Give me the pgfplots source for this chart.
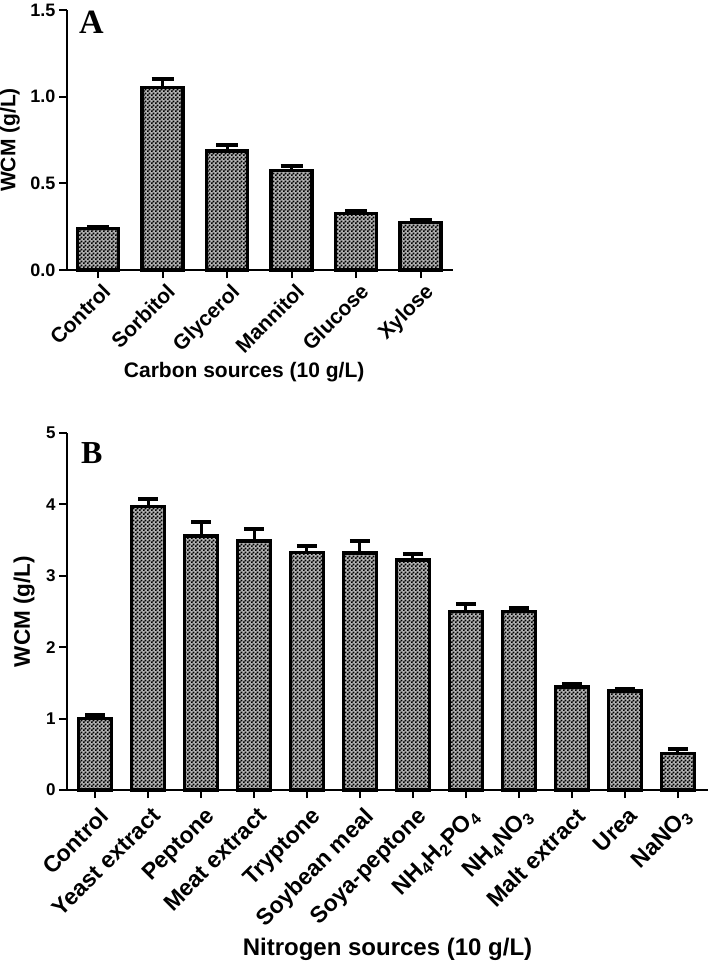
\documentclass[border=0pt]{standalone}
\usepackage{fontspec}
\setmainfont{Liberation Sans}
\newfontfamily\serifbf{Liberation Serif}
\usepackage{pgfplots}
\usepackage{pgfplotstable}
\pgfplotsset{compat=1.18}
\usetikzlibrary{patterns}

\pgfdeclarepatternformonly{finecheck}{\pgfpointorigin}{\pgfqpoint{3.6pt}{3.6pt}}{\pgfqpoint{3.6pt}{3.6pt}}{
  \pgfpathrectangle{\pgfpointorigin}{\pgfqpoint{1.85pt}{1.85pt}}
  \pgfpathrectangle{\pgfqpoint{1.8pt}{1.8pt}}{\pgfqpoint{1.85pt}{1.85pt}}
  \pgfusepath{fill}
}

\pgfplotstableread{
x y e
0 0.238 0.012
1 1.052 0.050
2 0.687 0.035
3 0.573 0.027
4 0.327 0.015
5 0.275 0.015
}\dataA

\pgfplotstableread{
x y e
0 1.00 0.05
1 3.97 0.11
2 3.56 0.20
3 3.49 0.17
4 3.33 0.09
5 3.32 0.17
6 3.22 0.08
7 2.50 0.11
8 2.50 0.05
9 1.44 0.05
10 1.39 0.03
11 0.51 0.06
}\dataB

\pgfplotsset{
  common/.style={
    scale only axis,
    axis x line*=bottom, axis y line*=left,
    axis line style={line width=2.5pt, -},
    tick align=outside, major tick length=8pt,
    tick style={line width=2pt, black},
    xtick pos=bottom, ytick pos=left,
    /pgf/number format/assume math mode=true,
    clip=false,
  },
  barstyle/.style={
    ybar, draw=black, line width=3.5pt, fill=black!30, postaction={pattern=finecheck, pattern color=black},
    error bars/.cd, y dir=plus, y explicit, error mark=|,
    error bar style={line width=3pt},
    error mark options={line width=4pt, mark size=#1},
  },
}

\begin{document}
\begin{tikzpicture}[x=1pt,y=1pt]
\path[use as bounding box] (0,0) rectangle (711,-963);

\begin{axis}[common,
  at={(67pt,-270pt)}, anchor=south west,
  width=386pt, height=260pt,
  xmin=-0.48, xmax=5.5, ymin=0, ymax=1.5,
  ytick={0,0.5,1,1.5},
  yticklabel style={/pgf/number format/.cd, fixed, fixed zerofill, precision=1},
  xtick={0,...,5},
  xticklabels={Control,Sorbitol,Glycerol,Mannitol,Glucose,Xylose},
  ticklabel style={font=\bfseries\fontsize{18}{18}\selectfont},
  xticklabel style={xshift=3pt, yshift=-4pt, rotate=45, anchor=north east, inner sep=0pt, font=\bfseries\fontsize{21}{21}\selectfont},
  xlabel={Carbon sources (10 g/L)},
  ylabel={WCM (g/L)},
  every axis x label/.style={at={(axis description cs:0.459,0)}, anchor=center, yshift=-102pt, font=\bfseries\fontsize{21}{21}\selectfont},
  every axis y label/.style={at={(axis description cs:-0.148,0.5)}, anchor=center, rotate=90, font=\bfseries\fontsize{21}{21}\selectfont},
  bar width=41pt,
]
\addplot[barstyle=11pt] table[x=x, y=y, y error=e]{\dataA};
\end{axis}

\begin{axis}[common,
  at={(67pt,-790pt)}, anchor=south west,
  width=641pt, height=357pt,
  xmin=-0.53, xmax=11.57, ymin=0, ymax=5,
  ytick={0,1,2,3,4,5},
  xtick={0,...,11},
  xticklabels={Control,Yeast extract,Peptone,Meat extract,Tryptone,Soybean meal,Soya-peptone,{NH\textsubscript{4}H\textsubscript{2}PO\textsubscript{4}},{NH\textsubscript{4}NO\textsubscript{3}},Malt extract,Urea,{NaNO\textsubscript{3}}},
  ticklabel style={font=\bfseries\fontsize{17}{17}\selectfont},
  xticklabel style={xshift=3pt, yshift=-8pt, rotate=45, anchor=north east, inner sep=0pt, font=\bfseries\fontsize{23}{23}\selectfont},
  xlabel={Nitrogen sources (10 g/L)},
  ylabel={WCM (g/L)},
  every axis x label/.style={at={(axis description cs:0.5,0)}, anchor=center, yshift=-159pt, font=\bfseries\fontsize{24}{24}\selectfont},
  every axis y label/.style={at={(axis description cs:-0.067,0.5)}, anchor=center, rotate=90, font=\bfseries\fontsize{22.5}{22.5}\selectfont},
  bar width=33pt,
]
\addplot[barstyle=10pt] table[x=x, y=y, y error=e]{\dataB};
\end{axis}

\node[anchor=north west, inner sep=0pt, font=\serifbf\bfseries\fontsize{34}{34}\selectfont] at (79,-11) {A};
\node[anchor=north west, inner sep=0pt, font=\serifbf\bfseries\fontsize{32}{32}\selectfont] at (81,-442) {B};
\end{tikzpicture}
\end{document}
